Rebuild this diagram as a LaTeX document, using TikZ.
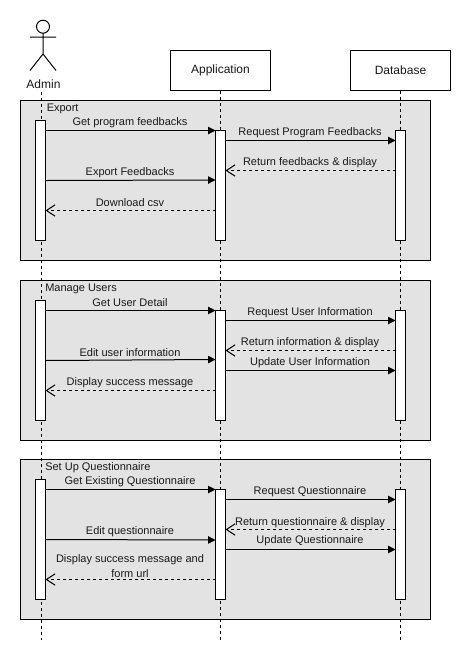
\documentclass[tikz,border=0pt]{standalone}
\usepackage{fontspec}
\setmainfont{Liberation Sans}
\usetikzlibrary{arrows.meta}
\tikzset{
  px/.style={x=0.75pt,y=-0.75pt},
  every node/.style={font=\fontsize{8.25}{10}\selectfont,text=black!90},
  frameblk/.style={draw=black,fill=black!11,line width=0.75pt,outer sep=0pt},
  framelbl/.style={anchor=west,inner sep=0pt,yshift=-1.7pt},
  headbox/.style={draw=black,fill=white,line width=0.75pt,minimum width=75pt,minimum height=30pt,inner sep=0pt,outer sep=0pt,font=\fontsize{9}{10}\selectfont},
  activation/.style={draw=black,fill=white,line width=0.75pt,minimum width=7.5pt,inner sep=0pt,outer sep=0pt,anchor=north},
  lifeline/.style={draw=black,line width=0.75pt,dash pattern=on 2.25pt off 2.25pt},
  actorline/.style={draw=black,line width=0.75pt},
  syncmsg/.style={draw=black,line width=0.75pt,-{Triangle[length=5.5pt,width=5.5pt]}},
  retmsg/.style={draw=black,line width=0.75pt,dash pattern=on 2.25pt off 2.25pt,-{Straight Barb[length=6.5pt,width=8.5pt]}},
  msglbl/.style={inner sep=0pt,align=center,anchor=center,yshift=-1.7pt},
}
\begin{document}
\begin{tikzpicture}[px]
\useasboundingbox (0,0) rectangle (471,662);
% frames
\node[frameblk,minimum width=307.5pt,minimum height=120pt,inner sep=0pt,anchor=north west] (fExp) at (20.5,100.5) {};
\node[frameblk,minimum width=307.5pt,minimum height=120pt,inner sep=0pt,anchor=north west] (fMan) at (20.5,280.5) {};
\node[frameblk,minimum width=307.5pt,minimum height=120pt,inner sep=0pt,anchor=north west] (fSet) at (20.5,459.5) {};
\node[framelbl] (lExp) at (46.5,107) {Export};
\node[framelbl] (lMan) at (45,287) {Manage Users};
\node[framelbl] (lSet) at (45,465.5) {Set Up Questionnaire};
% heads
\node[headbox] (app) at (220.5,70.5) {\raisebox{-1.8pt}{Application}};
\node[headbox] (db) at (400.5,70.5) {\raisebox{-1.8pt}{Database}};
% actor
\draw[actorline,fill=white] (43,26.7) circle[radius=6.5];
\draw[actorline] (43,33.2) -- (43,54) (30,37) -- (56,37) (30,70.5) -- (43,54) -- (56,70.5);
\node[inner sep=0pt,font=\fontsize{9}{10}\selectfont] (admin) at (43.5,84) {Admin};
% lifelines
\coordinate (endA) at (41.5,640);
\coordinate (endB) at (220.5,640);
\coordinate (endC) at (400.5,640);
\draw[lifeline] (41.5,92) -- (endA);
\draw[lifeline] (app.south) -- (endB);
\draw[lifeline] (db.south) -- (endC);
% activations
\node[activation,minimum height=90pt] (a1) at (40.5,120.5) {};
\node[activation,minimum height=82.5pt] (b1) at (220.5,130.5) {};
\node[activation,minimum height=82.5pt] (c1) at (400.5,130.5) {};
\node[activation,minimum height=90pt] (a2) at (40.5,300.5) {};
\node[activation,minimum height=82.5pt] (b2) at (220.5,310.5) {};
\node[activation,minimum height=82.5pt] (c2) at (400.5,310.5) {};
\node[activation,minimum height=90pt] (a3) at (40.5,479.5) {};
\node[activation,minimum height=82.5pt] (b3) at (220.5,489.5) {};
\node[activation,minimum height=82.5pt] (c3) at (400.5,489.5) {};
% Export
\draw[syncmsg] (a1.east |- 0,130.5) -- (b1.west |- 0,130.5);
\node[msglbl] (t1) at (130,120) {Get program feedbacks};
\draw[syncmsg] (b1.east |- 0,140.5) -- (c1.west |- 0,140.5);
\node[msglbl] (t2) at (310,130) {Request Program Feedbacks};
\draw[retmsg] (c1.west |- 0,170.5) -- (b1.east |- 0,170.5);
\node[msglbl] (t3) at (310,160) {Return feedbacks \& display};
\draw[syncmsg] (a1.east |- 0,180.5) -- (b1.west |- 0,180);
\node[msglbl] (t4) at (130,170) {Export Feedbacks};
\draw[retmsg] (b1.west |- 0,210.5) -- (a1.east |- 0,210.5);
\node[msglbl] (t5) at (130,200) {Download csv};
% Manage Users
\draw[syncmsg] (a2.east |- 0,310.5) -- (b2.west |- 0,310.5);
\node[msglbl] (t6) at (130,300) {Get User Detail};
\draw[syncmsg] (b2.east |- 0,320.5) -- (c2.west |- 0,320.5);
\node[msglbl] (t7) at (310,310) {Request User Information};
\draw[retmsg] (c2.west |- 0,350.5) -- (b2.east |- 0,350.5);
\node[msglbl] (t8) at (310,340) {Return information \& display};
\draw[syncmsg] (a2.east |- 0,360.5) -- (b2.west |- 0,359.5);
\node[msglbl] (t9) at (130,350) {Edit user information};
\draw[syncmsg] (b2.east |- 0,370.5) -- (c2.west |- 0,370.5);
\node[msglbl] (t10) at (310,360) {Update User Information};
\draw[retmsg] (b2.west |- 0,390.5) -- (a2.east |- 0,390.5);
\node[msglbl] (t11) at (130,380) {Display success message};
% Set Up Questionnaire
\draw[syncmsg] (a3.east |- 0,489.5) -- (b3.west |- 0,489.5);
\node[msglbl] (t12) at (130,479) {Get Existing Questionnaire};
\draw[syncmsg] (b3.east |- 0,499.5) -- (c3.west |- 0,499.5);
\node[msglbl] (t13) at (310,489) {Request Questionnaire};
\draw[retmsg] (c3.west |- 0,529.5) -- (b3.east |- 0,529.5);
\node[msglbl] (t14) at (310,520) {Return questionnaire \& display};
\draw[syncmsg] (a3.east |- 0,539.5) -- (b3.west |- 0,540);
\node[msglbl] (t15) at (130,529) {Edit questionnaire};
\draw[syncmsg] (b3.east |- 0,549.5) -- (c3.west |- 0,549.5);
\node[msglbl] (t16) at (310,538.5) {Update Questionnaire};
\draw[retmsg] (b3.west |- 0,579.5) -- (a3.east |- 0,579.5);
\node[msglbl] (t17) at (130,563.5) {Display success message and\\[1pt]form url};
\end{tikzpicture}
\end{document}
